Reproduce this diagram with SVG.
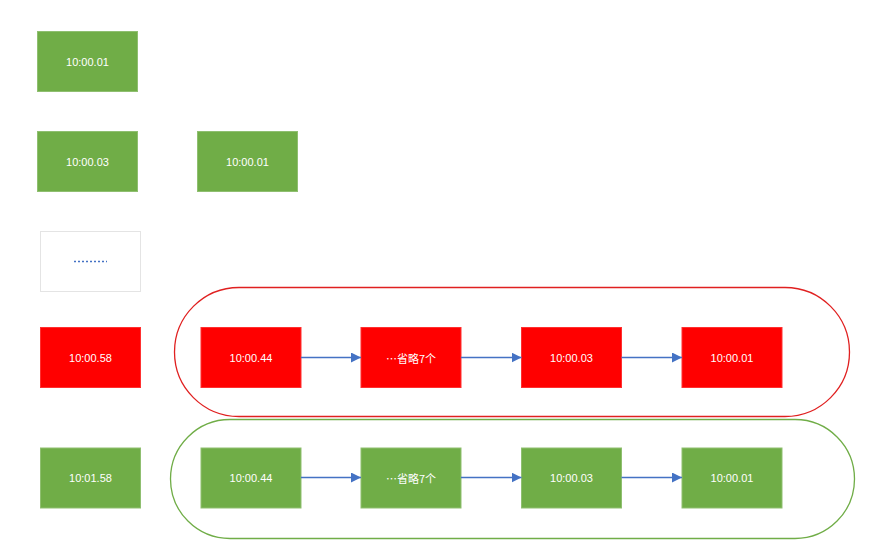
<svg xmlns="http://www.w3.org/2000/svg" width="885" height="556" viewBox="0 0 885 556">
<defs>
<marker id="ah" viewBox="0 0 10 10" refX="10" refY="5" markerWidth="10" markerHeight="10" markerUnits="userSpaceOnUse" orient="auto">
<path d="M0,0 L10,5 L0,10 z" fill="#4472C4"/>
</marker>
<style>
.g{fill:#70AD47;stroke:#8FBF70;stroke-width:1}
.r{fill:#FF0000;stroke:#FF3030;stroke-width:1}
.t{font-family:"Liberation Sans","Noto Sans CJK SC",sans-serif;font-size:11px;fill:#FFFFFF;text-anchor:middle;dominant-baseline:central}
.cj{font-family:"Noto Sans CJK SC",sans-serif;font-size:11px}
.c{stroke:#4472C4;stroke-width:1.5;fill:none;marker-end:url(#ah)}
</style>
</defs>
<rect width="885" height="556" fill="#FFFFFF"/>
<g id="pill-red"><rect x="174.5" y="287.5" width="675" height="129" rx="64.5" ry="64.5" fill="none" stroke="#E02020" stroke-width="1.3"/></g>
<g id="pill-green"><rect x="170.5" y="419.5" width="684" height="119" rx="59.5" ry="59.5" fill="none" stroke="#70AD47" stroke-width="1.3"/></g>
<g id="n1"><rect class="g" x="37.5" y="31.5" width="100" height="60"/><text class="t" x="87.5" y="61.5">10:00.01</text></g>
<g id="n2"><rect class="g" x="37.5" y="131.5" width="100" height="60"/><text class="t" x="87.5" y="161.5">10:00.03</text></g>
<g id="n3"><rect class="g" x="197.5" y="131.5" width="100" height="60"/><text class="t" x="247.5" y="161.5">10:00.01</text></g>
<g id="n4"><rect x="40.5" y="231.5" width="100" height="60" fill="#FFFFFF" stroke="#E4E4E4" stroke-width="1"/><line x1="74" y1="261.5" x2="107" y2="261.5" stroke="#4472C4" stroke-width="1.6" stroke-dasharray="2,2"/></g>
<g id="n5"><rect class="r" x="40.5" y="327.5" width="100" height="60"/><text class="t" x="90.5" y="357.5">10:00.58</text></g>
<g id="r1"><rect class="r" x="201" y="327.5" width="100" height="60"/><text class="t" x="251" y="357.5">10:00.44</text></g>
<g id="r2"><rect class="r" x="361" y="327.5" width="100" height="60"/><text class="t cj" x="411" y="357.5">…省略7个</text></g>
<g id="r3"><rect class="r" x="521.5" y="327.5" width="100" height="60"/><text class="t" x="571.5" y="357.5">10:00.03</text></g>
<g id="r4"><rect class="r" x="682" y="327.5" width="100" height="60"/><text class="t" x="732" y="357.5">10:00.01</text></g>
<g id="n6"><rect class="g" x="40.5" y="448" width="100" height="60"/><text class="t" x="90.5" y="478">10:01.58</text></g>
<g id="g1"><rect class="g" x="201" y="448" width="100" height="60"/><text class="t" x="251" y="478">10:00.44</text></g>
<g id="g2"><rect class="g" x="361" y="448" width="100" height="60"/><text class="t cj" x="411" y="478">…省略7个</text></g>
<g id="g3"><rect class="g" x="521.5" y="448" width="100" height="60"/><text class="t" x="571.5" y="478">10:00.03</text></g>
<g id="g4"><rect class="g" x="682" y="448" width="100" height="60"/><text class="t" x="732" y="478">10:00.01</text></g>
<g id="connectors">
<line class="c" x1="301" y1="357.5" x2="361" y2="357.5"/>
<line class="c" x1="461" y1="357.5" x2="521.5" y2="357.5"/>
<line class="c" x1="621.5" y1="357.5" x2="682" y2="357.5"/>
<line class="c" x1="301" y1="477.5" x2="361" y2="477.5"/>
<line class="c" x1="461" y1="477.5" x2="521.5" y2="477.5"/>
<line class="c" x1="621.5" y1="477.5" x2="682" y2="477.5"/>
</g>
</svg>
